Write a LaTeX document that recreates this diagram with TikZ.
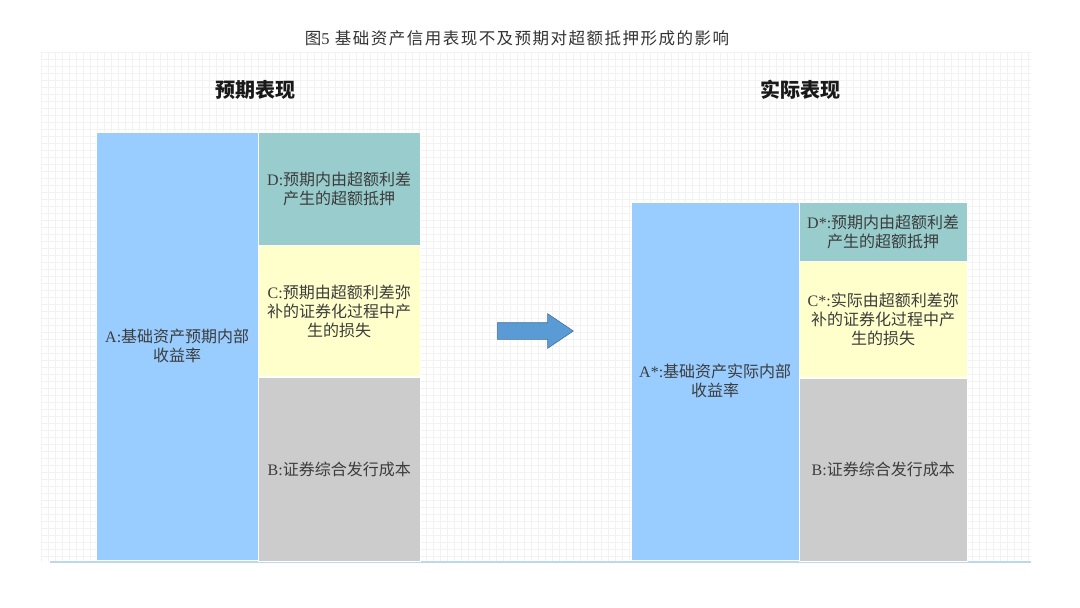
\documentclass[tikz,border=0pt]{standalone}
\usepackage{fontspec}
\setmainfont{Liberation Serif}
\newfontfamily\cjk{Noto Sans CJK SC}
\newfontfamily\capfont[LetterSpace=9]{Noto Sans CJK SC}
\usetikzlibrary{positioning,shapes.arrows}

\definecolor{irrblue}{HTML}{99CCFF}
\definecolor{spreadteal}{HTML}{99CCCC}
\definecolor{lossyellow}{HTML}{FFFFCC}
\definecolor{costgray}{HTML}{CCCCCC}
\definecolor{arrowblue}{HTML}{5B9BD5}
\definecolor{arrowedge}{HTML}{41719C}
\definecolor{gridgray}{HTML}{F2F2F2}
\definecolor{baseblue}{HTML}{BDD7EE}
\definecolor{labelgray}{HTML}{3C3C3C}

\begin{document}
\begin{tikzpicture}[x=1pt, y=-1pt,
    seg/.style={inner sep=0pt, draw=white, line width=0.4pt, align=center,
      text=labelgray, font=\fontsize{16}{19}\selectfont\cjk},
    head/.style={font=\fontsize{20}{24}\selectfont\cjk\bfseries, text=black!90}]
    \useasboundingbox (0,0) rectangle (1080,608);
    % faint grid paper behind the two stacks
    \foreach \x in {41,48,...,1031}
      \draw[gridgray, line width=0.8pt] (\x,52) -- (\x,562);
    \foreach \y in {52,59,...,562}
      \draw[gridgray, line width=0.8pt] (41,\y) -- (1031,\y);
    \draw[baseblue, line width=2pt] (50,562) -- (1031,562);

    \node[font=\fontsize{16.5}{20}\selectfont\capfont, text=black!80] (cap) at (517,38)
      {图{\rmfamily 5} 基础资产信用表现不及预期对超额抵押形成的影响};

    % expected performance
    \node[head] (hexp) at (255,90) {预期表现};
    \node[seg, fill=irrblue, anchor=north west, minimum width=162, minimum height=428] (a) at (96,132)
      {{\rmfamily A:}基础资产预期内部\\收益率};
    \node[seg, fill=spreadteal, anchor=north west, minimum width=162, minimum height=113] (d) at (258,132)
      {{\rmfamily D:}预期内由超额利差\\产生的超额抵押};
    \node[seg, fill=lossyellow, minimum width=162, minimum height=131, below=0pt of d] (c)
      {{\rmfamily C:}预期由超额利差弥\\补的证券化过程中产\\生的损失};
    \node[seg, fill=costgray, minimum width=162, minimum height=184, below=0pt of c] (b)
      {{\rmfamily B:}证券综合发行成本};

    \node[single arrow, fill=arrowblue, draw=arrowedge, line width=0.6pt,
      inner xsep=0pt, inner ysep=8pt, minimum height=76, single arrow head extend=9pt,
      single arrow tip angle=68, anchor=tail] (shift) at (497,331) {};

    % actual performance
    \node[head] (hact) at (800,90) {实际表现};
    \node[seg, fill=irrblue, anchor=north west, minimum width=168, minimum height=358] (as) at (631,202)
      {{\rmfamily A*:}基础资产实际内部\\收益率};
    \node[seg, fill=spreadteal, anchor=north west, minimum width=168, minimum height=59] (ds) at (799,202)
      {{\rmfamily D*:}预期内由超额利差\\产生的超额抵押};
    \node[seg, fill=lossyellow, minimum width=168, minimum height=116, below=0pt of ds] (cs)
      {{\rmfamily C*:}实际由超额利差弥\\补的证券化过程中产\\生的损失};
    \node[seg, fill=costgray, minimum width=168, minimum height=183, below=0pt of cs] (bs)
      {{\rmfamily B:}证券综合发行成本};
\end{tikzpicture}
\end{document}
